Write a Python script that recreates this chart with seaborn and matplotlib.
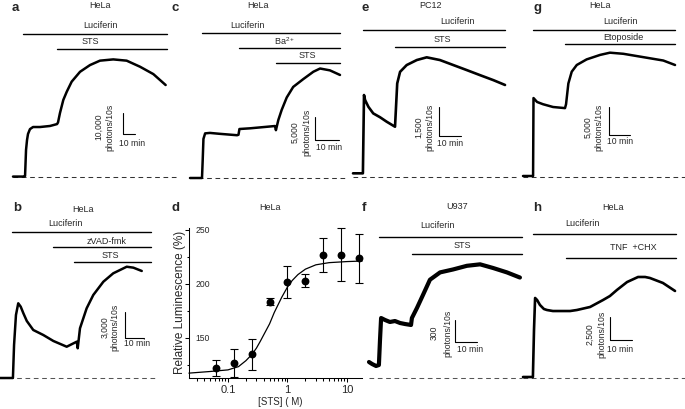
import matplotlib
matplotlib.use("Agg")
import matplotlib.pyplot as plt
import seaborn as sns
from matplotlib.ticker import LogLocator, FixedLocator, NullFormatter

sns.set_style("white")
plt.rcParams["font.family"] = ["Liberation Sans", "DejaVu Sans"]
plt.rcParams["mathtext.fontset"] = "custom"
plt.rcParams["mathtext.rm"] = "Liberation Sans"
plt.rcParams["mathtext.it"] = "Liberation Sans:italic"

W, H = 685, 409

# ---------------- data (time in min, signal in photons/10 s) ----------------
# a  HeLa, STS
a_time = [0, 9.0, 9.8, 10.6, 11.4, 12.2, 13.8, 16.3, 22.0, 30.1, 35.8, 36.6, 38.2, 40.9,
          43.7, 47.7, 54.5, 62.6, 70.7, 81.5, 92.4, 103.3, 114.1, 124.1]
a_signal = [200, 200, 500, 12900, 17600, 20500, 22800, 23800, 23800, 24300, 25200, 26000,
            30500, 36700, 40600, 45400, 50100, 53300, 55400, 56000, 55400, 52500, 49000, 43800]
a_treat = ["Luciferin", "STS"]
a_start = [8.1, 35.8]
a_end = 125.2

# b  HeLa, zVAD-fmk + STS
b_time = [0, 6.8, 7.4, 8.4, 9.6, 10.9, 12.3, 14.1, 17.5, 22.8, 28.1, 35.1, 40.4, 40.9,
          42.1, 45.6, 49.1, 54.4, 59.6, 66.7, 70.2, 74.6]
b_signal = [0, 0, 3810, 7270, 8620, 8230, 7470, 6580, 5540, 4960, 4270, 3610, 4190, 3430,
            5740, 8040, 9580, 11110, 12080, 12840, 12730, 12350]
b_treat = ["Luciferin", "zVAD-fmk", "STS"]
b_start = [6.3, 27.9, 38.9]
b_end = 79.5

# c  HeLa, Ba2+ + STS
c_time = [0, 5.0, 5.3, 5.6, 6.3, 8.3, 12.5, 19.6, 20.2, 20.6, 25.0, 31.3, 35.4, 35.8,
          36.8, 38.2, 40.3, 43.0, 47.2, 51.4, 54.2, 58.3, 62.5]
c_signal = [0, 0, 4000, 8500, 9700, 9800, 9600, 9300, 9400, 10650, 10800, 11100, 11300,
            10400, 12600, 14800, 17500, 19800, 21500, 23100, 23800, 23400, 22400]
c_treat = ["Luciferin", r"Ba$^{2+}$", "STS"]
c_start = [5.0, 20.4, 35.8]
c_end = 62.5

# e  PC12, STS
e_time = [0, 4.5, 5.0, 5.5, 7.0, 9.2, 12.3, 15.3, 19.1, 19.5, 20.1, 21.4, 24.4, 29.0,
          33.5, 39.5, 45.6, 51.7, 57.7, 63.8, 69.1]
e_signal = [190, 190, 4240, 3980, 3630, 3290, 3090, 2860, 2600, 3500, 4840, 5440, 5790,
            6050, 6190, 6050, 5790, 5530, 5270, 5010, 4760]
e_treat = ["Luciferin", "STS"]
e_start = [4.5, 19.1]
e_end = 69.1

# f  U937, STS
f_time = [0, 1.4, 3.2, 4.5, 5.0, 5.5, 7.3, 9.5, 11.8, 14.1, 16.4, 19.1, 19.5, 21.8,
          24.5, 27.7, 32.3, 38.2, 44.5, 50.5, 56.4, 62.7, 68.6]
f_signal = [218, 191, 164, 177, 518, 818, 791, 764, 777, 750, 736, 723, 818, 955,
            1130, 1340, 1440, 1480, 1530, 1550, 1500, 1440, 1370]
f_treat = ["Luciferin", "STS"]
f_start = [4.5, 19.5]
f_end = 69.5

# g  HeLa, Etoposide
g_time = [0, 4.8, 5.0, 6.7, 9.5, 14.3, 20.0, 20.5, 21.6, 23.2, 25.6, 30.3, 36.7, 41.4,
          47.8, 57.3, 66.8, 72.4]
g_signal = [180, 180, 14100, 13400, 13000, 12500, 12300, 13000, 16700, 18800, 20000,
            21000, 21800, 22200, 22000, 21400, 20800, 20000]
g_treat = ["Luciferin", "Etoposide"]
g_start = [4.8, 20.0]
g_end = 72.4

# h  HeLa, TNF + CHX
h_time = [0, 4.5, 5.0, 5.5, 6.4, 7.7, 9.5, 10.9, 13.6, 16.8, 21.4, 24.5, 30.5, 36.4,
          39.5, 42.7, 47.3, 52.3, 55.5, 57.7, 63.6, 69.1]
h_signal = [109, 109, 5220, 8700, 8480, 7940, 7500, 7390, 7280, 7280, 7280, 7390, 7720,
            8480, 8910, 9570, 10430, 10980, 10980, 10870, 10330, 9460]
h_treat = ["Luciferin", "TNF  +CHX"]
h_start = [4.5, 19.5]
h_end = 69.5

# d  HeLa dose response
d_conc = [0.0625, 0.125, 0.25, 0.5, 1, 2, 4, 8, 16]
d_mean = [122.2, 126.9, 134.8, 183.6, 201.7, 203.0, 226.9, 226.9, 223.5]
d_err = [7.8, 13.0, 14.0, 3.0, 14.5, 5.6, 15.7, 24.5, 22.6]
fit_conc = [0.022, 0.05, 0.1, 0.15, 0.2, 0.25, 0.3, 0.35, 0.4, 0.5, 0.6, 0.7, 0.8, 1.0,
            1.2, 1.5, 2.0, 3.0, 5.0, 10.0, 18.0]
fit_resp = [117.5, 119.0, 120.5, 123.5, 129.0, 134.5, 140.5, 147.0, 153.0, 163.0, 173.5,
            181.0, 187.5, 197.0, 203.0, 208.5, 213.5, 217.5, 219.5, 220.5, 221.0]

# scale bar sizes (photons/10s) and labels
scale_units = {"a": 10000, "b": 3000, "c": 5000, "e": 1500, "f": 300, "g": 5000, "h": 2500}
scale_labels = {"a": "10,000", "b": "3,000", "c": "5,000", "e": "1,500", "f": "300",
                "g": "5,000", "h": "2,500"}
titles = {"a": "HeLa", "b": "HeLa", "c": "HeLa", "d": "HeLa", "e": "PC12", "f": "U937",
          "g": "HeLa", "h": "HeLa"}

series = {
    "a": (a_time, a_signal, a_treat, a_start, a_end),
    "b": (b_time, b_signal, b_treat, b_start, b_end),
    "c": (c_time, c_signal, c_treat, c_start, c_end),
    "e": (e_time, e_signal, e_treat, e_start, e_end),
    "f": (f_time, f_signal, f_treat, f_start, f_end),
    "g": (g_time, g_signal, g_treat, g_start, g_end),
    "h": (h_time, h_signal, h_treat, h_start, h_end),
}

# ---------------- layout (pixels) ----------------
layout = {
    "a": dict(box=(0, 0, 180, 195), t0=13, base=177, px10=12.3, pxu=21, dash_end=177,
              bar_y=[34, 49], bar_txt=[(100, 25), (90, 42)], scale=(123, 134),
              sc_txt=(98.5, 110, 127), min_txt=(132, 143), letter=(12, 8), title=(100, 6),
              lw=1.8, dcol="#333333"),
    "c": dict(box=(170, 0, 350, 195), t0=190, base=178, px10=24, pxu=23, dash_end=347,
              bar_y=[33, 48, 63], bar_txt=[(247, 25), (285, 41), (307, 56)], scale=(315, 140),
              sc_txt=(295, 307, 132), min_txt=(329, 147), letter=(172, 8), title=(258, 6),
              lw=1.8, dcol="#333333"),
    "e": dict(box=(345, 0, 520, 195), t0=353, base=177, px10=22, pxu=29, dash_end=517,
              bar_y=[30, 47], bar_txt=[(457, 22), (442, 39)], scale=(439, 136),
              sc_txt=(419, 430, 127), min_txt=(450, 143), letter=(362, 8), title=(430, 6),
              lw=1.9, dcol="#333333"),
    "g": dict(box=(515, 0, 685, 195), t0=523, base=177, px10=21, pxu=28, dash_end=685,
              bar_y=[30, 44], bar_txt=[(620, 22), (623, 38)], scale=(609, 135),
              sc_txt=(588, 599, 127), min_txt=(620, 142), letter=(533, 8), title=(600, 6),
              lw=1.8, dcol="#333333"),
    "b": dict(box=(0, 195, 170, 409), t0=0, base=378, px10=19, pxu=26, dash_end=155,
              bar_y=[232, 247, 262], bar_txt=[(65, 224), (107, 241), (110, 255)],
              scale=(125, 338), sc_txt=(105, 115, 327), min_txt=(137, 343), letter=(13, 208),
              title=(83, 209), lw=1.8, dcol="#555555"),
    "f": dict(box=(360, 195, 525, 409), t0=369, base=378, px10=22, pxu=22, dash_end=522,
              bar_y=[237, 254], bar_txt=[(437, 226), (462, 246)], scale=(455, 342),
              sc_txt=(434, 448, 333), min_txt=(470, 350), letter=(362, 208), title=(457, 207),
              lw=3.0, dcol="#555555"),
    "h": dict(box=(515, 195, 685, 409), t0=523, base=378, px10=22, pxu=23, dash_end=685,
              bar_y=[234, 258], bar_txt=[(582, 224), (633, 248)], scale=(610, 340),
              sc_txt=(590, 602, 334), min_txt=(620, 350), letter=(533, 208), title=(613, 208),
              lw=1.9, dcol="#555555"),
}

fig = plt.figure(figsize=(W / 100, H / 100), dpi=100)
fig.patch.set_facecolor("white")


def ftext(x, y, s, size=6.5, ha="center", va="center", **kw):
    fig.text(x / W, 1 - y / H, s, fontsize=size, ha=ha, va=va, **kw)


for key, cfg in layout.items():
    time, signal, treat, start, end = series[key]
    L, T, R, B = cfg["box"]
    ppm = cfg["px10"] / 10.0
    unit = scale_units[key]
    ppu = cfg["pxu"] / unit
    ax = fig.add_axes([L / W, 1 - B / H, (R - L) / W, (B - T) / H])
    ax.set_xlim((L - cfg["t0"]) / ppm, (R - cfg["t0"]) / ppm)
    ax.set_ylim((cfg["base"] - B) / ppu, (cfg["base"] - T) / ppu)
    ax.set_axis_off()

    def px2t(x):
        return (x - cfg["t0"]) / ppm

    def px2s(y):
        return (cfg["base"] - y) / ppu

    # dashed baseline
    ax.plot([0, px2t(cfg["dash_end"])], [0, 0], color=cfg["dcol"], lw=0.75,
            ls=(0, (4.5, 3.5)), clip_on=False)
    # trace
    sns.lineplot(x=time, y=signal, ax=ax, color="black", lw=cfg["lw"], sort=False,
                 estimator=None, legend=False)
    for ln in ax.lines:
        ln.set_clip_on(False)
    # treatment bars
    for lab, st, by, (tx, ty) in zip(treat, start, cfg["bar_y"], cfg["bar_txt"]):
        ax.plot([st, end], [px2s(by), px2s(by)], color="black", lw=1.0, clip_on=False)
        ftext(tx, ty, lab, size=6.5)
    # scale bar
    sx, sy = cfg["scale"]
    ts, ss = px2t(sx), px2s(sy)
    ax.plot([ts, ts, ts + 10], [ss + unit, ss, ss], color="black", lw=0.8, clip_on=False)
    x1, x2, yc = cfg["sc_txt"]
    ftext(x1, yc, scale_labels[key], size=6.2, rotation=90)
    ftext(x2, yc, "photons/10s", size=6.2, rotation=90)
    ftext(cfg["min_txt"][0], cfg["min_txt"][1], "10 min", size=6.2)
    # panel letter and title
    ftext(cfg["letter"][0], cfg["letter"][1], key, size=9.5, ha="left", weight="bold")
    ftext(cfg["title"][0], cfg["title"][1], titles[key], size=6.5)

# ---------------- panel d ----------------
L, T, R, B = 189, 228, 362, 378
axd = fig.add_axes([L / W, 1 - B / H, (R - L) / W, (B - T) / H])
axd.set_xscale("log")
sns.lineplot(x=fit_conc, y=fit_resp, ax=axd, color="black", lw=0.9, sort=False,
             estimator=None, legend=False)
eb = axd.errorbar(d_conc, d_mean, yerr=d_err, fmt="none", ecolor="black", elinewidth=0.8,
                  capsize=3, capthick=0.8)
sns.scatterplot(x=d_conc, y=d_mean, ax=axd, color="black", s=32, edgecolor="black",
                linewidth=0, zorder=5, legend=False)
for art in axd.get_children():
    try:
        art.set_clip_on(False)
    except Exception:
        pass
for part in eb.lines:
    if isinstance(part, (list, tuple)):
        for p in part:
            p.set_clip_on(False)
    elif part is not None:
        part.set_clip_on(False)

axd.set_xlim(0.0221, 17.9)
axd.set_ylim(113, 251.5)
axd.set_facecolor("white")
for side in ["top", "right"]:
    axd.spines[side].set_visible(False)
for side in ["left", "bottom"]:
    axd.spines[side].set_color("black")
    axd.spines[side].set_linewidth(0.75)
axd.xaxis.set_major_locator(FixedLocator([0.1, 1, 10]))
axd.xaxis.set_major_formatter(matplotlib.ticker.FixedFormatter(["0.1", "1", "10"]))
axd.xaxis.set_minor_locator(LogLocator(base=10, subs=range(2, 10)))
axd.xaxis.set_minor_formatter(NullFormatter())
axd.yaxis.set_major_locator(FixedLocator([150, 200, 250]))
axd.yaxis.set_minor_locator(FixedLocator([125, 175, 225]))
axd.tick_params(axis="both", which="both", direction="out", color="black", width=0.75,
                left=True, bottom=True)
axd.tick_params(axis="both", which="major", length=3)
axd.tick_params(axis="both", which="minor", length=1.8)
axd.tick_params(axis="x", labelsize=8, pad=2)
axd.tick_params(axis="y", labelsize=6.2, pad=-7.5)
for lbl in axd.get_yticklabels():
    lbl.set_horizontalalignment("left")
axd.set_xlabel("")
axd.set_ylabel("")
ftext(179.5, 302, "Relative Luminescence (%)", size=8.5, rotation=90)
ftext(280, 402, "[STS] ( M)", size=7)
ftext(172, 208, "d", size=9.5, ha="left", weight="bold")
ftext(270, 208, titles["d"], size=6.5)

fig.savefig("out.png", dpi=100, facecolor="white")
